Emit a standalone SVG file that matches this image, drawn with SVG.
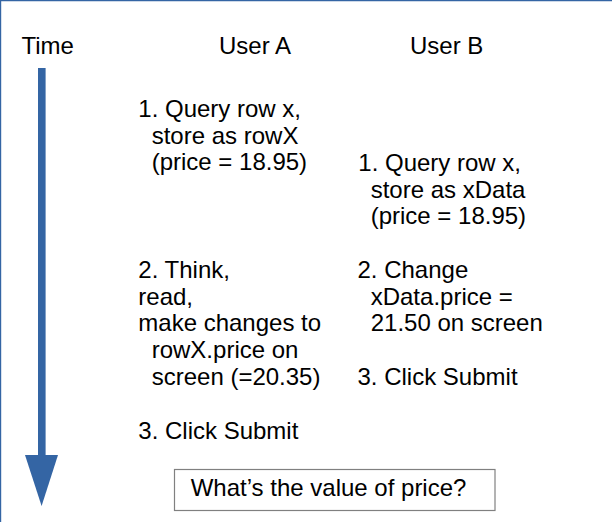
<svg xmlns="http://www.w3.org/2000/svg" width="612" height="522" viewBox="0 0 612 522">
  <style>
    .t { font-family: "Liberation Sans", Arial, sans-serif; font-size: 24px; fill: #000000; }
    .frame { stroke: #3465a4; stroke-width: 1.2; fill: none; }
    .arrow { fill: #3465a4; }
    .box { fill: #ffffff; stroke: #808080; stroke-width: 1.2; }
  </style>
  <rect x="0" y="0" width="612" height="522" fill="#ffffff"/>
  <path class="frame" d="M0.6,522 V0.6 H612"/>

  <g id="time-axis">
    <text class="t" x="21.5" y="54.3">Time</text>
    <g id="connectors">
      <rect class="arrow" x="38" y="68" width="7.6" height="388"/>
      <polygon class="arrow" points="25,455 58,455 41.6,506"/>
    </g>
  </g>

  <g id="header-a">
    <text class="t" x="219" y="54.3">User A</text>
  </g>
  <g id="header-b">
    <text class="t" x="410" y="54.3">User B</text>
  </g>

  <g id="a-step1">
    <text class="t" x="138.3" y="117.3">1. Query row x,</text>
    <text class="t" x="151.7" y="143.8">store as rowX</text>
    <text class="t" x="151.7" y="170.3">(price = 18.95)</text>
  </g>

  <g id="b-step1">
    <text class="t" x="358.3" y="171">1. Query row x,</text>
    <text class="t" x="370.7" y="197.5">store as xData</text>
    <text class="t" x="370.7" y="224">(price = 18.95)</text>
  </g>

  <g id="a-step2">
    <text class="t" x="138.3" y="277.7">2. Think,</text>
    <text class="t" x="138.3" y="304.5">read,</text>
    <text class="t" x="138.3" y="331.2">make changes to</text>
    <text class="t" x="151.7" y="358">rowX.price on</text>
    <text class="t" x="151.7" y="384.8">screen (=20.35)</text>
  </g>

  <g id="a-step3">
    <text class="t" x="138.3" y="439.3">3. Click Submit</text>
  </g>

  <g id="b-step2">
    <text class="t" x="357.5" y="277.7">2. Change</text>
    <text class="t" x="370.7" y="304.5">xData.price =</text>
    <text class="t" x="370.7" y="331.2">21.50 on screen</text>
  </g>

  <g id="b-step3">
    <text class="t" x="357.5" y="385">3. Click Submit</text>
  </g>

  <g id="question">
    <rect class="box" x="174.5" y="469.5" width="320.5" height="41"/>
    <text class="t" x="190.7" y="496">What’s the value of price?</text>
  </g>
</svg>
